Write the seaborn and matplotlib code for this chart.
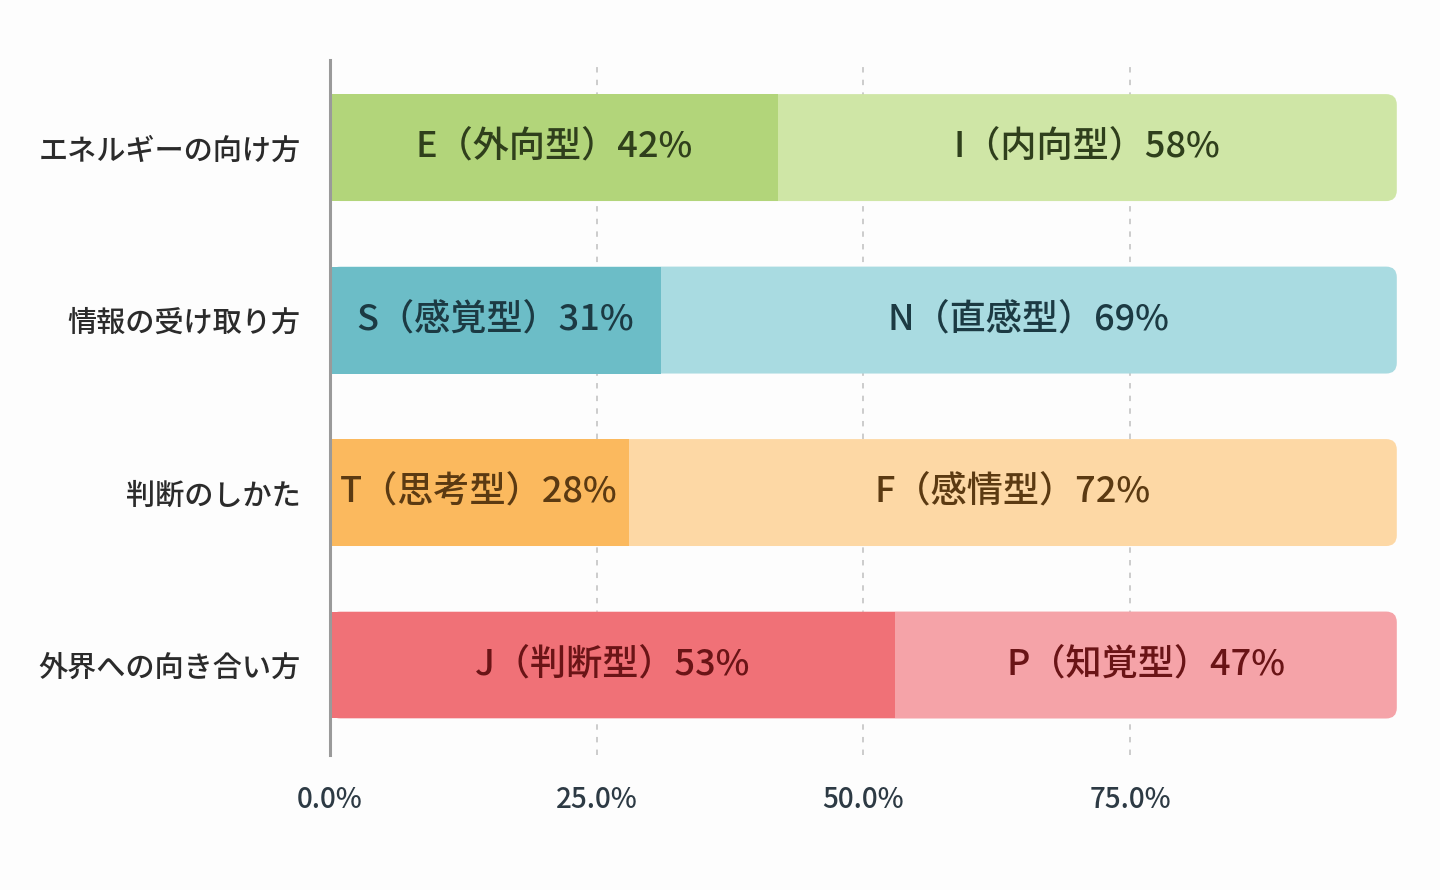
import pandas as pd
import matplotlib.pyplot as plt
import seaborn as sns
from matplotlib.patches import FancyBboxPatch

# データ
categories = ['エネルギーの向け方', '情報の受け取り方', '判断のしかた', '外界への向き合い方']
left_labels = ['E（外向型）', 'S（感覚型）', 'T（思考型）', 'J（判断型）']
right_labels = ['I（内向型）', 'N（直感型）', 'F（感情型）', 'P（知覚型）']
left_values = [42, 31, 28, 53]
right_values = [58, 69, 72, 47]

dark_colors = ['#b2d57a', '#6cbdc7', '#fbb95e', '#f07177']
light_colors = ['#cfe6a6', '#a9dbe1', '#fdd8a5', '#f5a3a8']
text_colors = ['#2f3f1c', '#1c3a43', '#5b3a12', '#6a1416']

df = pd.DataFrame({
    'category': categories,
    'left': left_values,
    'total': [a + b for a, b in zip(left_values, right_values)],
})

sns.set_style('white')
plt.rcParams['font.family'] = ['Noto Sans CJK JP', 'DejaVu Sans']

fig = plt.figure(figsize=(14.4, 8.9), dpi=100)
fig.patch.set_facecolor('#fdfdfd')
ax = fig.add_axes([0.229, 0.152, 0.741, 0.781])
ax.set_facecolor('#fdfdfd')

# 背景のグリッド
for v in [25, 50, 75]:
    ax.axvline(v, color='#c8c8c8', linestyle=(0, (3, 4)), linewidth=1.3, zorder=0)

# 右側（合計）の棒
sns.barplot(data=df, x='total', y='category', hue='category', palette=light_colors,
            orient='h', width=0.62, legend=False, ax=ax, saturation=1,
            linewidth=0, zorder=1)

# 右端を角丸にする
x_px = 1067 / 100
y_px = 173
for p in list(ax.patches):
    x0, y0 = p.get_x(), p.get_y()
    w, h = p.get_width(), p.get_height()
    rounded = FancyBboxPatch((x0, y0), w, h,
                             boxstyle='round,pad=0,rounding_size=1.0',
                             mutation_aspect=x_px / y_px,
                             facecolor=p.get_facecolor(), edgecolor='none',
                             linewidth=0, zorder=1)
    p.set_visible(False)
    ax.add_patch(rounded)

# 左側の棒
sns.barplot(data=df, x='left', y='category', hue='category', palette=dark_colors,
            orient='h', width=0.62, legend=False, ax=ax, saturation=1,
            linewidth=0, zorder=2)

# 棒のラベル
for i in range(len(categories)):
    lv, rv = left_values[i], right_values[i]
    ax.text(lv / 2, i, f'{left_labels[i]}{lv}%', ha='center', va='center',
            fontsize=26, fontweight='medium', color=text_colors[i], zorder=3)
    ax.text(lv + rv / 2, i, f'{right_labels[i]}{rv}%', ha='center', va='center',
            fontsize=26, fontweight='medium', color=text_colors[i], zorder=3)

ax.set_xlim(0, 100)
ax.set_ylim(3.52, -0.51)
ax.set_xticks([0, 25, 50, 75])
ax.set_xticklabels(['0.0%', '25.0%', '50.0%', '75.0%'])
ax.tick_params(axis='x', length=0, pad=22, labelsize=20, labelcolor='#2d3a44')
ax.tick_params(axis='y', length=0, pad=21, labelsize=21, labelcolor='#2b2b2b')
for t in ax.get_yticklabels() + ax.get_xticklabels():
    t.set_fontweight('medium')
ax.set_xlabel('')
ax.set_ylabel('')

for s in ['top', 'right', 'bottom']:
    ax.spines[s].set_visible(False)
ax.spines['left'].set_color('#9a9a9a')
ax.spines['left'].set_linewidth(2.2)
ax.spines['left'].set_zorder(4)

plt.savefig('out.png', dpi=100, facecolor=fig.get_facecolor())
